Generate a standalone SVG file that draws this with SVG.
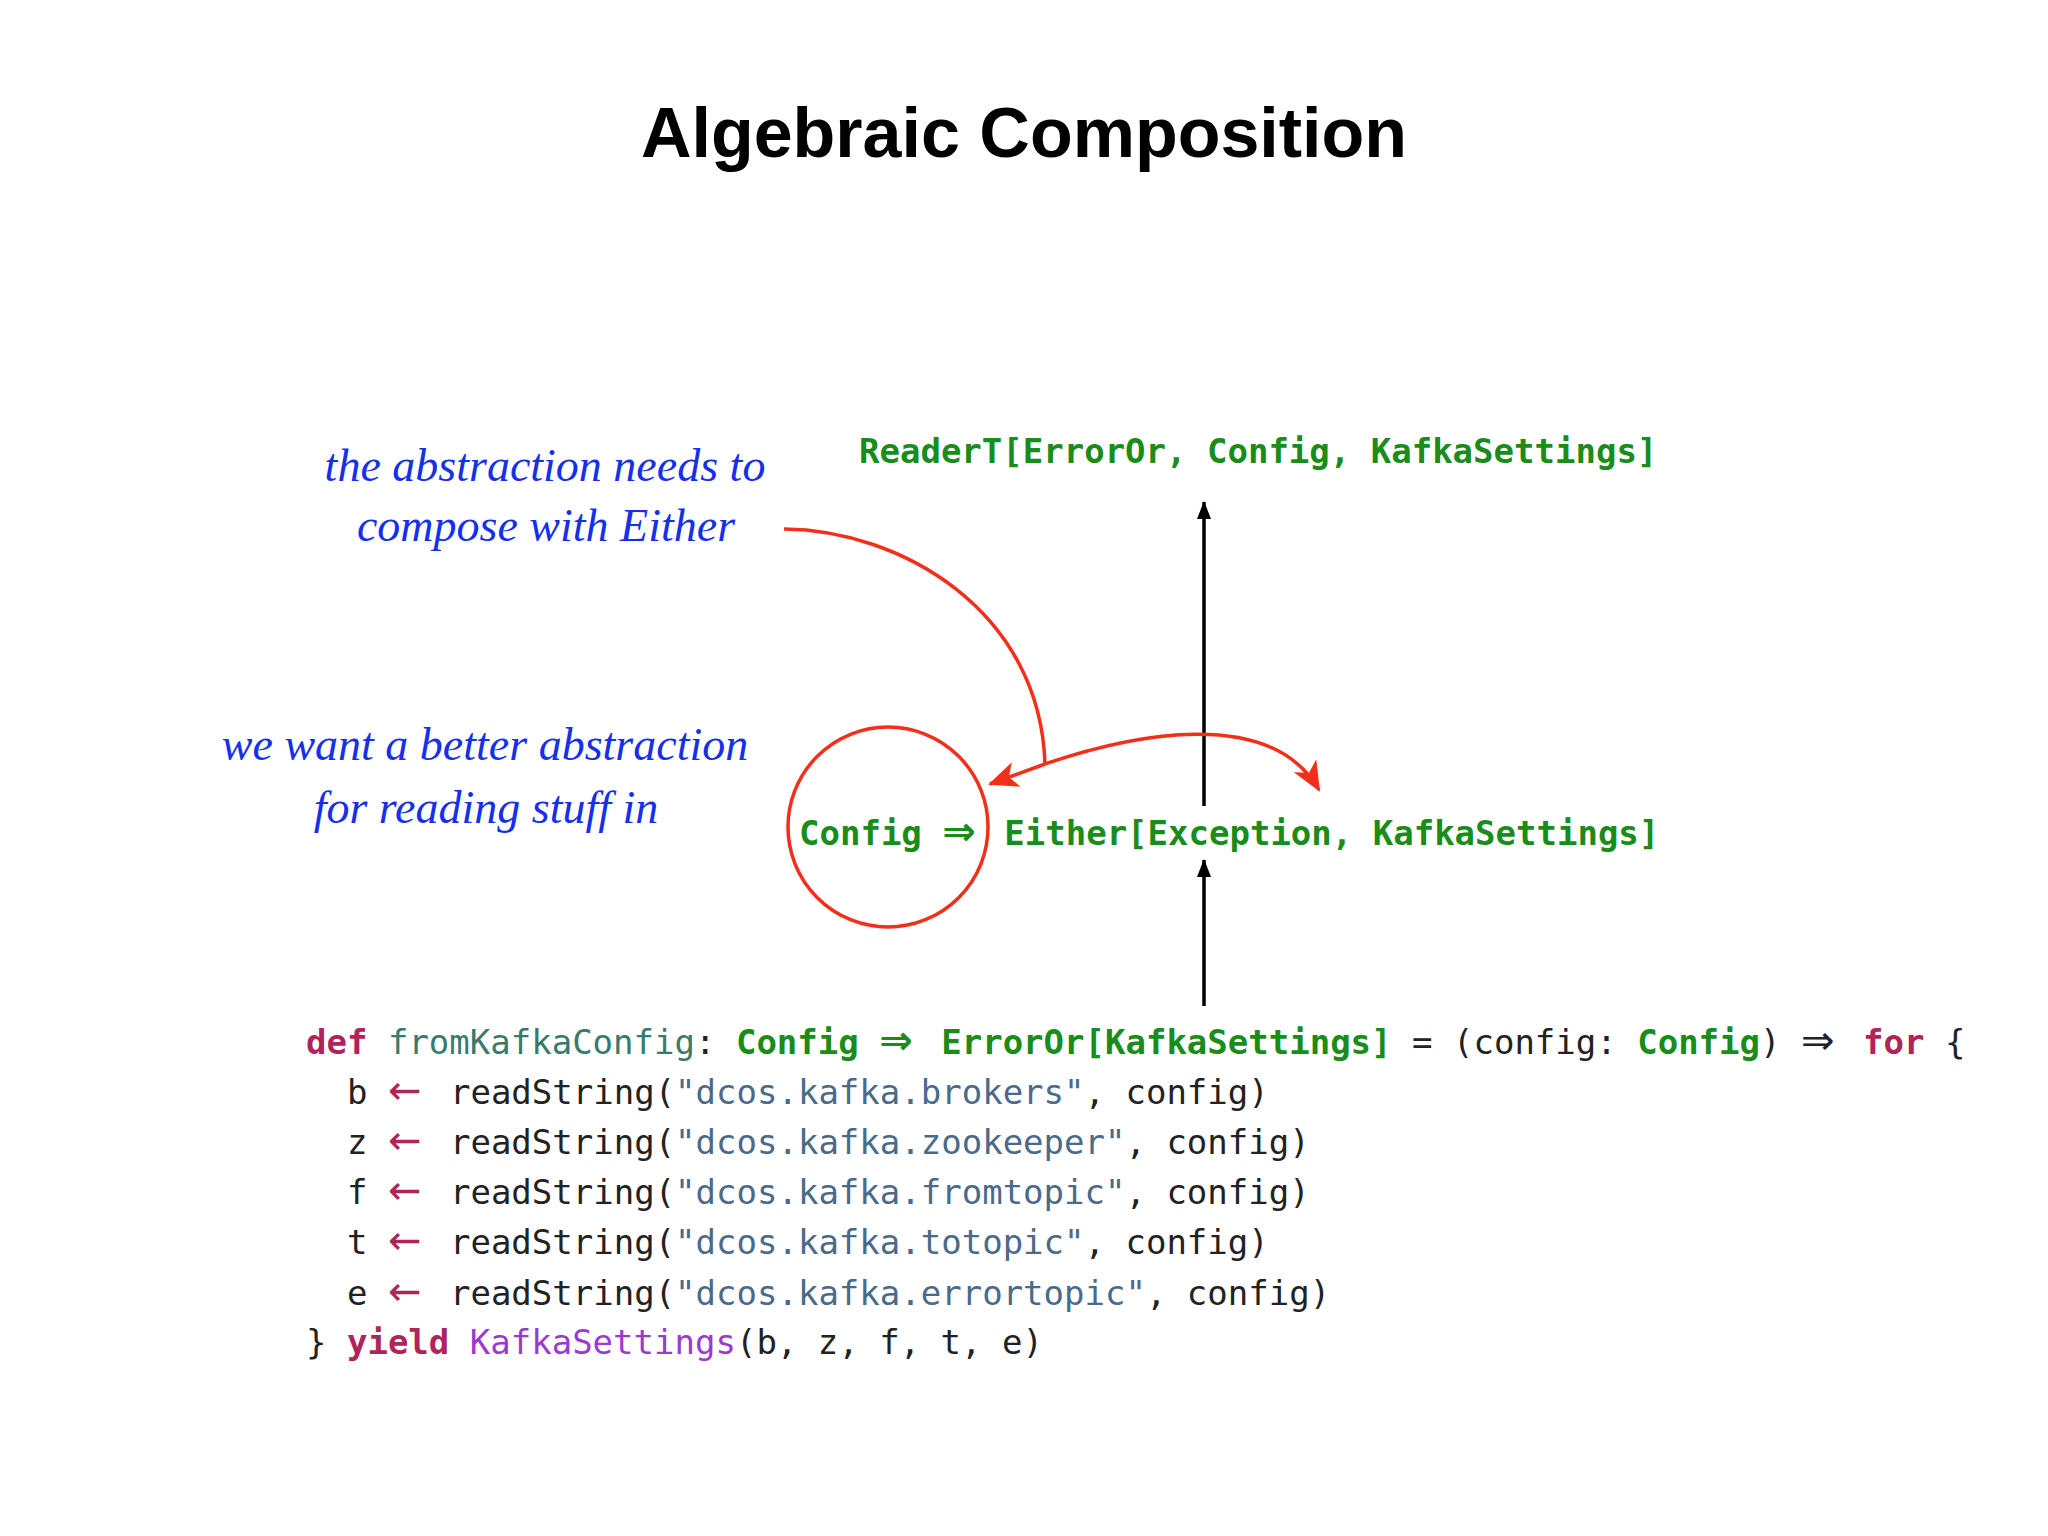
<svg xmlns="http://www.w3.org/2000/svg" width="2048" height="1536" viewBox="0 0 2048 1536">
<style>
.title{font-family:"Liberation Sans",Arial,sans-serif;font-weight:bold;font-size:70px;fill:#000}
.hand{font-family:"Liberation Serif",serif;font-style:italic;font-size:46px;fill:#1530e8}
.code{font-family:"DejaVu Sans Mono","Liberation Mono",monospace;font-size:34px;fill:#222}
.g{fill:#1a8c1a;font-weight:bold}
.k{fill:#b0245a;font-weight:bold}
.a{fill:#b0245a}
.f{fill:#3a7a6a}
.s{fill:#4a6a8a}
.p{fill:#9a3ad0}
.blk{stroke:#000;stroke-width:3.5;fill:none}
.red{stroke:#f0301a;stroke-width:3.5;fill:none}
.ar{font-family:"DejaVu Sans",sans-serif;font-size:40px}
</style>
<defs>
<marker id="ar" markerWidth="30" markerHeight="30" refX="28" refY="15" orient="auto" markerUnits="userSpaceOnUse" viewBox="0 0 30 30"><path d="M0,2 L30,15 L0,28 L8,15z" fill="#f0301a"/></marker>
<marker id="abk" markerWidth="18" markerHeight="18" refX="17" refY="9" orient="auto" markerUnits="userSpaceOnUse" viewBox="0 0 18 18"><path d="M0,2 L18,9 L0,16z" fill="#000"/></marker>
</defs>
<rect width="2048" height="1536" fill="#fff"/>
<text class="title" x="1024" y="157" text-anchor="middle">Algebraic Composition</text>
<g id="notes">
<text class="hand" x="545" y="481" text-anchor="middle">the abstraction needs to</text>
<text class="hand" x="546" y="541" text-anchor="middle">compose with Either</text>
<text class="hand" x="485" y="760" text-anchor="middle">we want a better abstraction</text>
<text class="hand" x="486" y="823" text-anchor="middle">for reading stuff in</text>
</g>
<g id="readerT"><text class="code g" x="859" y="463">ReaderT[ErrorOr, Config, KafkaSettings]</text></g>
<g id="either"><text class="code g" x="799" y="845">Config <tspan class="ar">⇒</tspan><tspan dx="8"> Either[Exception, KafkaSettings]</tspan></text></g>
<g id="circle"><circle class="red" cx="888" cy="827" r="100"/></g>
<g id="code">
<text class="code" x="306" y="1054"><tspan class="k">def</tspan> <tspan class="f">fromKafkaConfig</tspan>: <tspan class="g">Config</tspan> <tspan class="g ar">⇒</tspan><tspan dx="8"> </tspan><tspan class="g">ErrorOr[KafkaSettings]</tspan> = (config: <tspan class="g">Config</tspan>) <tspan class="ar">⇒</tspan><tspan dx="8"> </tspan><tspan class="k">for</tspan> {</text>
<text class="code" x="347" y="1104">b <tspan class="a ar">←</tspan><tspan dx="8"> readString(</tspan><tspan class="s">"dcos.kafka.brokers"</tspan>, config)</text>
<text class="code" x="347" y="1154">z <tspan class="a ar">←</tspan><tspan dx="8"> readString(</tspan><tspan class="s">"dcos.kafka.zookeeper"</tspan>, config)</text>
<text class="code" x="347" y="1204">f <tspan class="a ar">←</tspan><tspan dx="8"> readString(</tspan><tspan class="s">"dcos.kafka.fromtopic"</tspan>, config)</text>
<text class="code" x="347" y="1254">t <tspan class="a ar">←</tspan><tspan dx="8"> readString(</tspan><tspan class="s">"dcos.kafka.totopic"</tspan>, config)</text>
<text class="code" x="347" y="1305">e <tspan class="a ar">←</tspan><tspan dx="8"> readString(</tspan><tspan class="s">"dcos.kafka.errortopic"</tspan>, config)</text>
<text class="code" x="306" y="1354">} <tspan class="k">yield</tspan> <tspan class="p">KafkaSettings</tspan>(b, z, f, t, e)</text>
</g>
<g id="connectors">
<path class="blk" d="M1204,806 L1204,502" marker-end="url(#abk)"/>
<path class="blk" d="M1204,1006 L1204,860" marker-end="url(#abk)"/>
<path class="red" d="M784,529 C900,530 1040,610 1045,764"/>
<path class="red" d="M1045,764 L990,784" marker-end="url(#ar)"/>
<path class="red" d="M1045,764 C1130,735 1270,705 1319,790" marker-end="url(#ar)"/>
</g>
</svg>
